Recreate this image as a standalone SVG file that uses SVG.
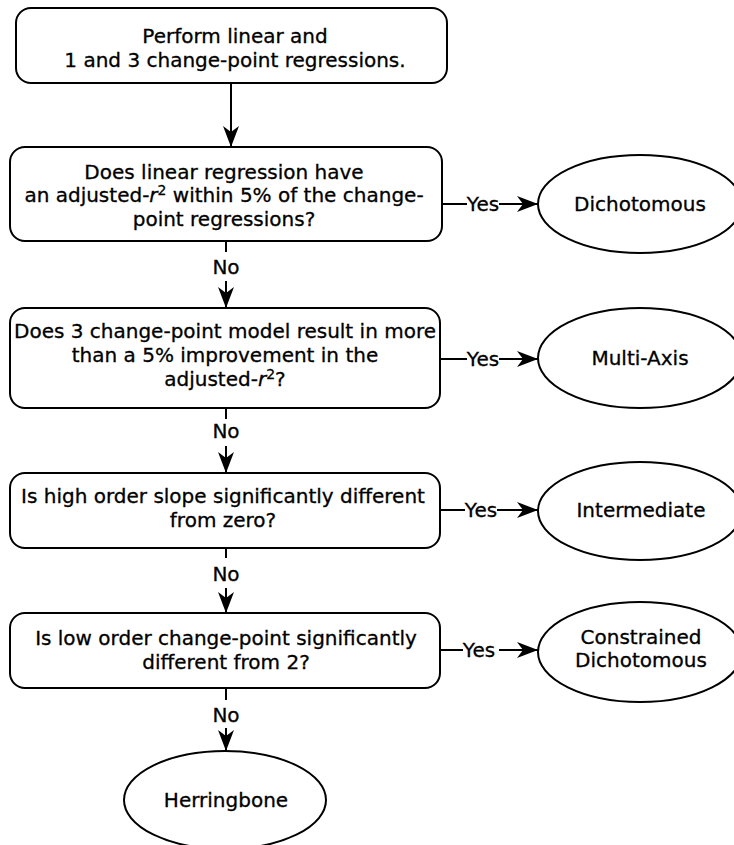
<svg xmlns="http://www.w3.org/2000/svg" width="734" height="845" viewBox="0 0 734 845">
<style>
text{font-family:"DejaVu Sans","Liberation Sans",sans-serif;font-size:20px;fill:#000;stroke:#000;stroke-width:0.3px;text-anchor:middle}
.box{fill:#fff;stroke:#000;stroke-width:2}
.ell{fill:#fff;stroke:#000;stroke-width:2}
.ln{fill:none;stroke:#000;stroke-width:2}
.sup{font-size:14px}
</style>
<defs>
<marker id="ah" markerUnits="userSpaceOnUse" markerWidth="24" markerHeight="18" viewBox="-22 -9 24 18" refX="0" refY="0" orient="auto">
<path d="M0,0 L-21,-8 L-15,0 L-21,8 Z" fill="#000"/>
</marker>
</defs>
<rect width="734" height="845" fill="#fff"/>
<g id="connectors">
<line class="ln" x1="231" y1="83" x2="231" y2="147" marker-end="url(#ah)"/>
<line class="ln" x1="226" y1="241" x2="226" y2="252"/>
<text x="226" y="274">No</text>
<line class="ln" x1="226" y1="281" x2="226" y2="308" marker-end="url(#ah)"/>
<line class="ln" x1="226" y1="408" x2="226" y2="419"/>
<text x="226" y="438">No</text>
<line class="ln" x1="226" y1="446" x2="226" y2="473" marker-end="url(#ah)"/>
<line class="ln" x1="226" y1="548" x2="226" y2="558"/>
<text x="226" y="581">No</text>
<line class="ln" x1="226" y1="588" x2="226" y2="613" marker-end="url(#ah)"/>
<line class="ln" x1="226" y1="688" x2="226" y2="700"/>
<text x="226" y="722">No</text>
<line class="ln" x1="226" y1="728" x2="226" y2="751" marker-end="url(#ah)"/>
<line class="ln" x1="442" y1="204" x2="467" y2="204"/>
<text x="483" y="211">Yes</text>
<line class="ln" x1="499" y1="204" x2="538" y2="204" marker-end="url(#ah)"/>
<line class="ln" x1="440" y1="359" x2="467" y2="359"/>
<text x="483" y="366">Yes</text>
<line class="ln" x1="499" y1="359" x2="538" y2="359" marker-end="url(#ah)"/>
<line class="ln" x1="440" y1="510" x2="465" y2="510"/>
<text x="481" y="517">Yes</text>
<line class="ln" x1="497" y1="510" x2="538" y2="510" marker-end="url(#ah)"/>
<line class="ln" x1="440" y1="650" x2="463" y2="650"/>
<text x="479" y="657">Yes</text>
<line class="ln" x1="499" y1="650" x2="538" y2="650" marker-end="url(#ah)"/>
</g>
<g id="start">
<rect class="box" x="16" y="8" width="431" height="75" rx="15"/>
<text x="235" y="43">Perform linear and</text>
<text x="235" y="66.5">1 and 3 change-point regressions.</text>
</g>
<g id="q1">
<rect class="box" x="10" y="147" width="432" height="94" rx="15"/>
<text x="224" y="178.5">Does linear regression have</text>
<text x="224" y="202">an adjusted-<tspan font-style="italic">r</tspan><tspan class="sup" dy="-7">2</tspan><tspan dy="7"> within 5% of the change-</tspan></text>
<text x="224" y="225.5">point regressions?</text>
</g>
<g id="q2">
<rect class="box" x="10" y="308" width="430" height="100" rx="15"/>
<text x="225" y="338">Does 3 change-point model result in more</text>
<text x="225" y="361.5">than a 5% improvement in the</text>
<text x="225" y="385.5">adjusted-<tspan font-style="italic">r</tspan><tspan class="sup" dy="-7">2</tspan><tspan dy="7">?</tspan></text>
</g>
<g id="q3">
<rect class="box" x="10" y="473" width="430" height="75" rx="15"/>
<text x="223" y="503">Is high order slope significantly different</text>
<text x="223" y="526.5">from zero?</text>
</g>
<g id="q4">
<rect class="box" x="10" y="613" width="430" height="75" rx="15"/>
<text x="226" y="645">Is low order change-point significantly</text>
<text x="226" y="668.5">different from 2?</text>
</g>
<g id="dichotomous">
<ellipse class="ell" cx="640" cy="204" rx="102" ry="49"/>
<text x="640" y="211">Dichotomous</text>
</g>
<g id="multiaxis">
<ellipse class="ell" cx="640" cy="358" rx="102" ry="50"/>
<text x="640" y="365">Multi-Axis</text>
</g>
<g id="intermediate">
<ellipse class="ell" cx="640" cy="511" rx="102" ry="49"/>
<text x="641" y="517">Intermediate</text>
</g>
<g id="constrained">
<ellipse class="ell" cx="640" cy="652" rx="102" ry="50"/>
<text x="641" y="643.5">Constrained</text>
<text x="641" y="667">Dichotomous</text>
</g>
<g id="herringbone">
<ellipse class="ell" cx="225" cy="800" rx="101" ry="49"/>
<text x="226" y="807">Herringbone</text>
</g>
</svg>
